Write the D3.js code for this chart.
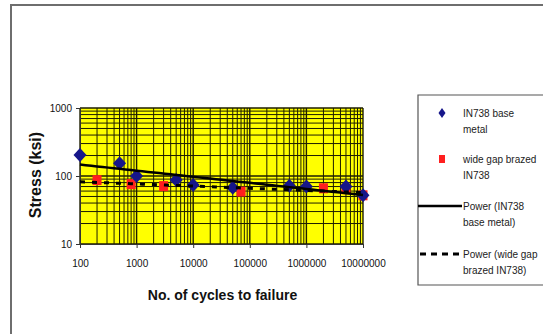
<!DOCTYPE html>
<html>
<head>
<meta charset="utf-8">
<script src="https://cdn.jsdelivr.net/npm/d3@7/dist/d3.min.js"></script>
<style>
  html, body { margin: 0; padding: 0; background: #fff; }
  svg { display: block; font-family: "Liberation Sans", Arial, sans-serif; }
</style>
</head>
<body>
<svg id="chart" width="543" height="334"></svg>
<script>
// Fatigue data: IN738 base metal
const cyclesBase = [100, 500, 1000, 5000, 10000, 50000, 500000, 1000000, 5000000, 10000000];
const stressBase = [204, 154, 100, 87, 74, 67, 72, 70, 70, 52];
// Fatigue data: wide gap brazed IN738
const cyclesBrazed = [200, 800, 3000, 70000, 2000000, 5000000, 10000000];
const stressBrazed = [87, 76, 71, 59, 66, 64, 52];

const xTickValues = [100, 1000, 10000, 100000, 1000000, 10000000];
const yTickValues = [10, 100, 1000];
const xTitle = "No. of cycles to failure";
const yTitle = "Stress (ksi)";
const legendLabels = [
  ["IN738 base", "metal"],
  ["wide gap brazed", "IN738"],
  ["Power (IN738", "base metal)"],
  ["Power (wide gap", "brazed IN738)"]
];

const svg = d3.select("#chart");
const plot = { left: 80, right: 363, top: 108, bottom: 244 };

const x = d3.scaleLog().domain([100, 1e7]).range([plot.left, plot.right]);
const y = d3.scaleLog().domain([10, 1000]).range([plot.bottom, plot.top]);

// Outer chart frame
svg.append("path")
  .attr("d", "M11,334V5H543")
  .attr("fill", "none")
  .attr("stroke", "#6e6e6e")
  .attr("stroke-width", 2);

// Plot background
svg.append("rect")
  .attr("x", plot.left).attr("y", plot.top)
  .attr("width", plot.right - plot.left)
  .attr("height", plot.bottom - plot.top)
  .attr("fill", "#ffff00");

// Log gridlines (major and minor)
const xGrid = [];
for (let n = 2; n <= 6; n++) for (let k = 1; k <= 9; k++) xGrid.push(k * Math.pow(10, n));
xGrid.push(1e7);
const yGrid = [];
for (let n = 1; n <= 2; n++) for (let k = 1; k <= 9; k++) yGrid.push(k * Math.pow(10, n));
yGrid.push(1000);

const isMajor = v => Math.abs(Math.log10(v) - Math.round(Math.log10(v))) < 1e-9;

svg.append("g").selectAll("line").data(xGrid).join("line")
  .attr("x1", d => x(d)).attr("x2", d => x(d))
  .attr("y1", plot.top).attr("y2", plot.bottom)
  .attr("stroke", "#1e1e00")
  .attr("stroke-width", d => isMajor(d) ? 1.4 : 1);

svg.append("g").selectAll("line").data(yGrid).join("line")
  .attr("x1", plot.left).attr("x2", plot.right)
  .attr("y1", d => y(d)).attr("y2", d => y(d))
  .attr("stroke", "#1e1e00")
  .attr("stroke-width", d => isMajor(d) ? 1.4 : 1);

// Axes
const xAxis = svg.append("g")
  .attr("transform", `translate(0,${plot.bottom})`)
  .call(d3.axisBottom(x).tickValues(xTickValues).tickFormat(d3.format("d")).tickSize(4).tickPadding(12));
const yAxis = svg.append("g")
  .attr("transform", `translate(${plot.left},0)`)
  .call(d3.axisLeft(y).tickValues(yTickValues).tickFormat(d3.format("d")).tickSize(4).tickPadding(4));

[xAxis, yAxis].forEach(g => {
  g.select(".domain").attr("stroke", "#333").attr("stroke-width", 1);
  g.selectAll(".tick line").attr("stroke", "#333");
  g.selectAll(".tick text")
    .attr("fill", "#111")
    .style("font-size", "10px")
    .style("font-family", "'Liberation Sans', Arial, sans-serif");
});

// Power-law trendlines fitted in log-log space
function powerFit(xs, ys) {
  const lx = xs.map(Math.log10), ly = ys.map(Math.log10);
  const mx = d3.mean(lx), my = d3.mean(ly);
  const b = d3.sum(lx, (v, i) => (v - mx) * (ly[i] - my)) / d3.sum(lx, v => (v - mx) ** 2);
  const a = my - b * mx;
  return v => Math.pow(10, a + b * Math.log10(v));
}
const fitBase = powerFit(cyclesBase, stressBase);
const fitBrazed = powerFit(cyclesBrazed, stressBrazed);
const fitRange = d3.range(0, 51).map(i => Math.pow(10, 2 + i * 0.1));

const line = f => d3.line().x(d => x(d)).y(d => y(f(d)));

// Marker shapes
const diamondPath = (w, h) => `M0,${-h}L${w},0L0,${h}L${-w},0Z`;
const rectPath = (w, h) => `M${-w},${-h}H${w}V${h}H${-w}Z`;

svg.append("g").selectAll("path")
  .data(cyclesBrazed.map((c, i) => [c, stressBrazed[i]]))
  .join("path")
  .attr("transform", d => `translate(${x(d[0])},${y(d[1])})`)
  .attr("d", rectPath(4.5, 5))
  .attr("fill", "#ff1f1f");

svg.append("g").selectAll("path")
  .data(cyclesBase.map((c, i) => [c, stressBase[i]]))
  .join("path")
  .attr("transform", d => `translate(${x(d[0])},${y(d[1])})`)
  .attr("d", diamondPath(6.5, 7))
  .attr("fill", "#16168a");

svg.append("path")
  .datum(fitRange)
  .attr("d", line(fitBrazed))
  .attr("fill", "none")
  .attr("stroke", "#000")
  .attr("stroke-width", 3)
  .attr("stroke-dasharray", "5,7");

svg.append("path")
  .datum(fitRange)
  .attr("d", line(fitBase))
  .attr("fill", "none")
  .attr("stroke", "#000")
  .attr("stroke-width", 2.5);

// Axis titles
svg.append("text")
  .attr("x", (plot.left + plot.right) / 2 + 1)
  .attr("y", 300)
  .attr("text-anchor", "middle")
  .style("font-size", "14px")
  .style("font-weight", "bold")
  .attr("fill", "#111")
  .text(xTitle);

svg.append("text")
  .attr("transform", "translate(41,175) rotate(-90)")
  .attr("text-anchor", "middle")
  .style("font-size", "16px")
  .style("font-weight", "bold")
  .attr("fill", "#111")
  .text(yTitle);

// Legend
const legend = svg.append("g");
legend.append("path")
  .attr("d", "M545,285H418V95H545")
  .attr("fill", "none")
  .attr("stroke", "#555")
  .attr("stroke-width", 1.2);

const entryY = [113, 159, 206, 254];
legend.append("path").attr("transform", `translate(442,${entryY[0]})`)
  .attr("d", diamondPath(3.5, 5)).attr("fill", "#16168a");
legend.append("path").attr("transform", `translate(442,${entryY[1]})`)
  .attr("d", rectPath(3, 4)).attr("fill", "#ff1f1f");
legend.append("line").attr("x1", 418).attr("x2", 462)
  .attr("y1", entryY[2]).attr("y2", entryY[2])
  .attr("stroke", "#000").attr("stroke-width", 2.5);
legend.append("line").attr("x1", 420).attr("x2", 462)
  .attr("y1", entryY[3]).attr("y2", entryY[3])
  .attr("stroke", "#000").attr("stroke-width", 3).attr("stroke-dasharray", "6,5");

legendLabels.forEach((lines, i) => {
  const t = legend.append("text")
    .attr("x", 463)
    .attr("y", entryY[i] + 4)
    .style("font-size", "10px")
    .attr("fill", "#222");
  lines.forEach((s, j) => {
    t.append("tspan").attr("x", 463).attr("dy", j === 0 ? 0 : 16).text(s);
  });
});
</script>
</body>
</html>
